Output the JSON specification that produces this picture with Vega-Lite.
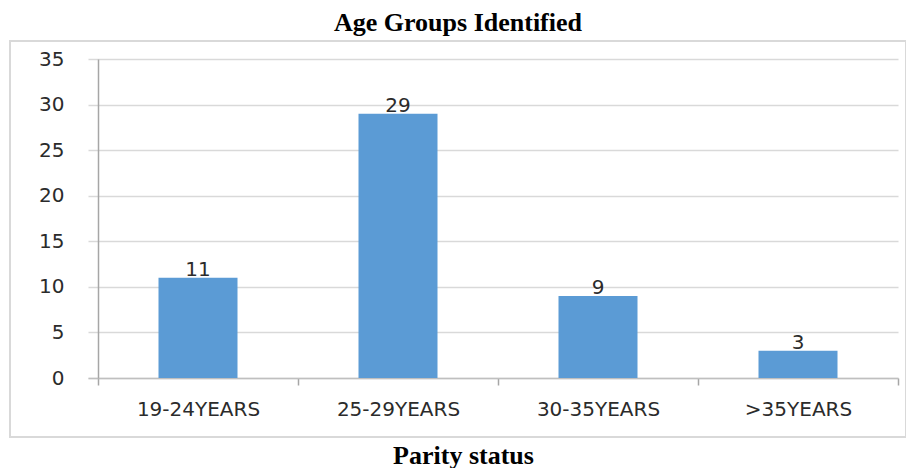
{
  "$schema": "https://vega.github.io/schema/vega-lite/v6.json",
  "width": 896,
  "height": 396,
  "padding": {"left": 10, "top": 10, "right": 0, "bottom": 0},
  "background": "white",
  "title": {
    "text": "Age Groups Identified",
    "font": "Liberation Serif",
    "fontSize": 26,
    "fontWeight": "bold",
    "color": "#000000",
    "offset": 5,
    "anchor": "middle"
  },
  "data": {
    "values": [
      {"age_group": "19-24YEARS", "count": 11},
      {"age_group": "25-29YEARS", "count": 29},
      {"age_group": "30-35YEARS", "count": 9},
      {"age_group": ">35YEARS", "count": 3}
    ]
  },
  "encoding": {
    "x": {
      "field": "age_group",
      "type": "nominal",
      "sort": null,
      "scale": {"range": [78, 888], "paddingInner": 0, "paddingOuter": 0.025, "align": 1},
      "axis": {
        "offset": -59,
        "tickBand": "extent",
        "tickSize": 7,
        "tickColor": "#a6a6a6",
        "tickWidth": 1.5,
        "domainColor": "#bfbfbf",
        "domainWidth": 1.5,
        "grid": false,
        "labelAngle": 0,
        "labelFont": "DejaVu Sans",
        "labelFontSize": 20,
        "labelColor": "#2b2b2b",
        "labelPadding": 14,
        "title": "Parity status",
        "titleFont": "Liberation Serif",
        "titleFontSize": 26,
        "titleFontWeight": "bold",
        "titleColor": "#000000",
        "titleBaseline": "alphabetic",
        "titleX": 453,
        "titleY": 85
      }
    },
    "y": {
      "field": "count",
      "type": "quantitative",
      "scale": {"domain": [0, 35], "range": [337, 18], "nice": false},
      "axis": {
        "offset": -88,
        "values": [0, 5, 10, 15, 20, 25, 30, 35],
        "ticks": false,
        "domainColor": "#a6a6a6",
        "domainWidth": 1.5,
        "grid": true,
        "gridColor": "#d9d9d9",
        "gridWidth": 1.5,
        "labelFont": "DejaVu Sans",
        "labelFontSize": 20,
        "labelColor": "#2b2b2b",
        "labelPadding": 34,
        "title": null
      }
    }
  },
  "layer": [
    {"mark": {"type": "bar", "color": "#5b9bd5", "width": {"band": 0.395}}},
    {
      "mark": {"type": "text", "baseline": "alphabetic", "dy": -2, "font": "DejaVu Sans", "fontSize": 20, "color": "#2b2b2b"},
      "encoding": {"text": {"field": "count", "type": "quantitative"}}
    }
  ],
  "config": {"view": {"stroke": "#d9d9d9", "strokeWidth": 2}}
}
